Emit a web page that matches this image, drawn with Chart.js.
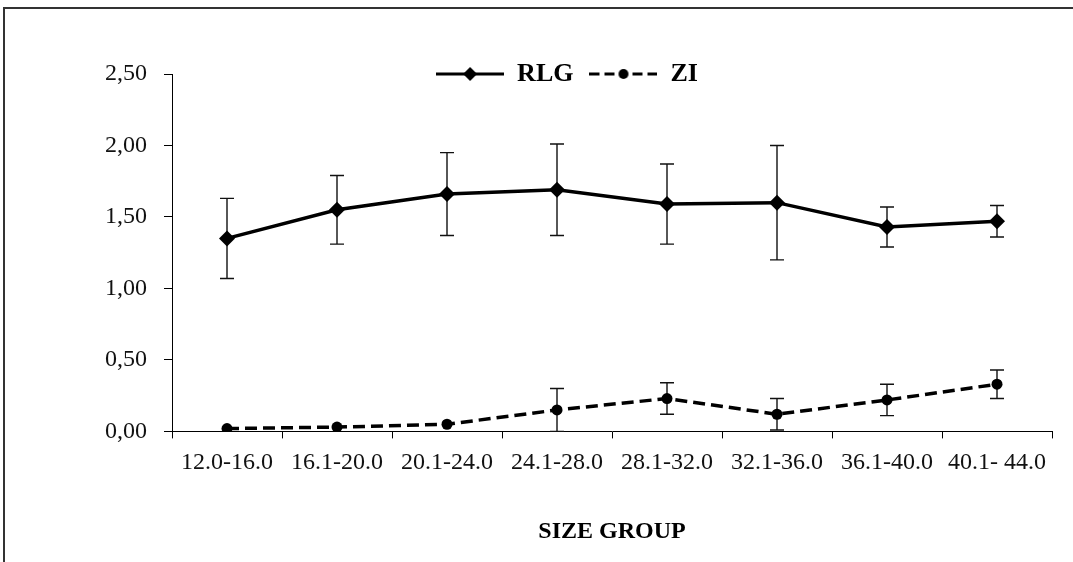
<!DOCTYPE html>
<html>
<head>
<meta charset="utf-8">
<script src="https://cdn.jsdelivr.net/npm/chart.js@4"></script>
<style>
  html, body { margin: 0; padding: 0; background: #fff; overflow: hidden; }
  #wrap { position: relative; width: 1073px; height: 562px; }
</style>
</head>
<body>
<div id="wrap"><canvas id="grafico"></canvas></div>
<script>
// ==================== DATOS ====================
const grupos = ['12.0-16.0', '16.1-20.0', '20.1-24.0', '24.1-28.0', '28.1-32.0', '32.1-36.0', '36.1-40.0', '40.1- 44.0'];
const rlg    = [1.35, 1.55, 1.66, 1.69, 1.59, 1.60, 1.43, 1.47];
const rlgErr = [0.28, 0.24, 0.29, 0.32, 0.28, 0.40, 0.14, 0.11];
const zi     = [0.02, 0.03, 0.05, 0.15, 0.23, 0.12, 0.22, 0.33];
const ziErr  = [0, 0, 0, 0.15, 0.11, 0.11, 0.11, 0.10];
const yTicks = [0, 0.5, 1, 1.5, 2, 2.5];

const FUENTE = '"Liberation Serif", "Times New Roman", serif';

// ==================== ICONOS DE LEYENDA ====================
function iconoLeyenda(tipo) {
  const c = document.createElement('canvas');
  c.width = 68; c.height = 20;
  const g = c.getContext('2d');
  g.strokeStyle = '#000'; g.fillStyle = '#000'; g.lineWidth = 3;
  if (tipo === 'rlg') {
    g.beginPath(); g.moveTo(0, 10); g.lineTo(68, 10); g.stroke();
    g.beginPath();
    g.moveTo(34, 3); g.lineTo(41, 10); g.lineTo(34, 17); g.lineTo(27, 10);
    g.closePath(); g.fill();
  } else {
    [[0, 10], [15, 25], [43, 53], [58, 68]].forEach(([a, b]) => {
      g.beginPath(); g.moveTo(a, 10); g.lineTo(b, 10); g.stroke();
    });
    g.beginPath(); g.arc(34, 10, 5, 0, Math.PI * 2); g.fill();
  }
  return c;
}

// ==================== PLUGINS ====================
const marco = {
  id: 'marco',
  beforeDraw(chart) {
    const ctx = chart.ctx;
    ctx.save();
    ctx.strokeStyle = '#333';
    ctx.lineWidth = 2;
    ctx.strokeRect(4, 8, 2000, 2000);
    ctx.restore();
  }
};

// la leyenda va dentro del área, a la altura de 2,50
const moverLeyenda = {
  id: 'moverLeyenda',
  afterLayout(chart) {
    const l = chart.legend;
    const dy = (chart.chartArea.top - 29) - l.top;
    l.top += dy; l.bottom += dy;
    l.left += 41; l.right += 41;
  }
};

const barrasError = {
  id: 'barrasError',
  beforeDatasetsDraw(chart) {
    const ctx = chart.ctx;
    const y = chart.scales.y;
    const errores = [rlgErr, ziErr];
    ctx.save();
    ctx.strokeStyle = '#111';
    ctx.lineWidth = 1.4;
    chart.data.datasets.forEach((ds, d) => {
      const meta = chart.getDatasetMeta(d);
      meta.data.forEach((pt, i) => {
        const e = errores[d][i];
        if (!e) return;
        const v = ds.data[i];
        const yt = y.getPixelForValue(v + e);
        const yb = y.getPixelForValue(Math.max(0, v - e));
        ctx.beginPath();
        ctx.moveTo(pt.x, yt); ctx.lineTo(pt.x, yb);
        ctx.moveTo(pt.x - 7, yt); ctx.lineTo(pt.x + 7, yt);
        ctx.moveTo(pt.x - 7, yb); ctx.lineTo(pt.x + 7, yb);
        ctx.stroke();
      });
    });
    ctx.restore();
  }
};

// ==================== GRÁFICO ====================
const ctx = document.getElementById('grafico').getContext('2d');
const grafico = new Chart(ctx, {
  type: 'line',
  data: {
    labels: grupos,
    datasets: [
      {
        label: 'RLG',
        data: rlg,
        borderColor: '#000',
        backgroundColor: '#000',
        borderWidth: 3.5,
        pointStyle: 'rectRot',
        pointRadius: 8,
        pointBorderWidth: 0,
        tension: 0
      },
      {
        label: 'ZI',
        data: zi,
        borderColor: '#000',
        backgroundColor: '#000',
        borderWidth: 3.5,
        borderDash: [12, 6],
        pointStyle: 'circle',
        pointRadius: 5.5,
        pointBorderWidth: 0,
        tension: 0
      }
    ]
  },
  options: {
    responsive: true,
    maintainAspectRatio: false,
    animation: false,
    layout: { padding: { top: 22, left: 0, right: 21, bottom: 16 } },
    plugins: {
      tooltip: { enabled: false },
      legend: {
        position: 'top',
        align: 'center',
        labels: {
          usePointStyle: true,
          pointStyleWidth: 68,
          padding: 16,
          color: '#000',
          font: { family: FUENTE, size: 26, weight: 'bold' },
          generateLabels: (chart) => chart.data.datasets.map((ds, i) => ({
            text: ds.label,
            datasetIndex: i,
            pointStyle: iconoLeyenda(i === 0 ? 'rlg' : 'zi'),
            fontColor: '#000',
            lineWidth: 0,
            hidden: false
          }))
        }
      }
    },
    scales: {
      x: {
        offset: true,
        grid: { offset: true, drawOnChartArea: false, color: '#000', tickLength: 7, tickWidth: 1 },
        border: { color: '#000', width: 1 },
        ticks: { color: '#111', padding: 10, maxRotation: 0, autoSkip: false, font: { family: FUENTE, size: 24 } },
        title: {
          display: true,
          text: 'SIZE GROUP',
          color: '#000',
          padding: { top: 30, bottom: 0 },
          font: { family: FUENTE, size: 24, weight: 'bold' }
        }
      },
      y: {
        min: 0,
        max: 2.5,
        afterBuildTicks: (scale) => { scale.ticks = yTicks.map(v => ({ value: v })); },
        afterFit: (scale) => { scale.width = 172; },
        grid: { drawOnChartArea: false, color: '#000', tickLength: 8, tickWidth: 1 },
        border: { color: '#000', width: 1 },
        ticks: {
          color: '#111',
          padding: 17,
          font: { family: FUENTE, size: 24 },
          callback: (v) => Number(v).toFixed(2).replace('.', ',')
        }
      }
    }
  },
  plugins: [marco, moverLeyenda, barrasError]
});
</script>
</body>
</html>
